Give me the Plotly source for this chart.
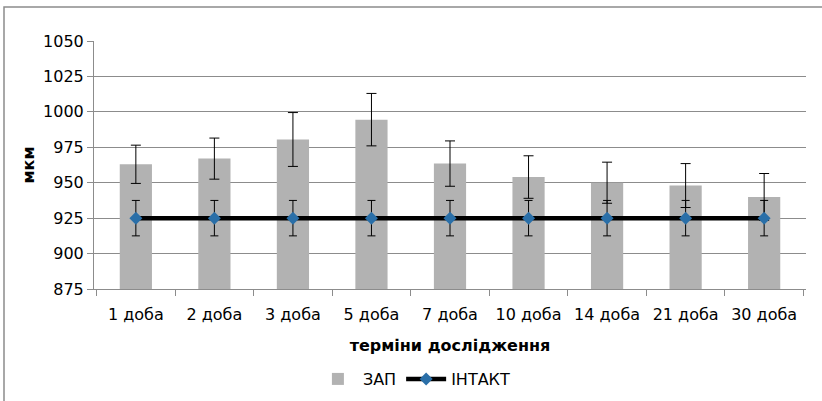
import plotly.graph_objects as go

categories = ["1 доба", "2 доба", "3 доба", "5 доба", "7 доба", "10 доба", "14 доба", "21 доба", "30 доба"]
zap_values = [963, 967, 980.5, 994.5, 963.5, 954, 950, 948, 940]
zap_errors = [13.5, 14.5, 19, 18.5, 16, 15, 14.5, 15.5, 16.5]
intakt_values = [925, 925, 925, 925, 925, 925, 925, 925, 925]
intakt_errors = [12.5, 12.5, 12.5, 12.5, 12.5, 12.5, 12.5, 12.5, 12.5]
y_ticks = [875, 900, 925, 950, 975, 1000, 1025, 1050]

font_family = "'DejaVu Sans', sans-serif"

fig = go.Figure()
fig.add_trace(go.Bar(
    x=categories, y=zap_values, name="ЗАП",
    marker=dict(color="#b2b2b2", line=dict(width=0)),
    width=0.41,
    error_y=dict(type="data", array=zap_errors, visible=True,
                 color="#000000", thickness=1, width=5),
))
fig.add_trace(go.Scatter(
    x=categories, y=intakt_values, name="ІНТАКТ", mode="lines+markers",
    line=dict(color="#000000", width=4.5),
    marker=dict(symbol="diamond", size=10, color="#2a6fa8",
                line=dict(width=0)),
    error_y=dict(type="data", array=intakt_errors, visible=True,
                 color="#000000", thickness=1, width=4),
))

fig.update_layout(
    width=822, height=401,
    margin=dict(l=94, r=16, t=41, b=112, autoexpand=False),
    paper_bgcolor="white", plot_bgcolor="white",
    font=dict(family=font_family, size=16, color="#000000"),
    showlegend=True,
    legend=dict(orientation="h", x=0.45, xanchor="center", y=-0.363, yanchor="middle",
                font=dict(size=16), itemwidth=40, traceorder="normal"),
    hovermode=False,
    shapes=[dict(type="rect", xref="paper", yref="paper",
                 x0=-90/712, x1=1.1, y0=-0.6, y1=282/248,
                 line=dict(color="#8c8c8c", width=1.5), fillcolor="rgba(0,0,0,0)",
                 layer="below")],
)
fig.update_xaxes(
    type="category", automargin=False,
    showline=True, linecolor="#8c8c8c", linewidth=1,
    ticks="outside", tickson="boundaries", ticklen=6, tickcolor="#8c8c8c",
    ticklabelstandoff=11,
    showgrid=False,
    tickfont=dict(size=16),
    title=dict(text="<b>терміни дослідження</b>", font=dict(size=16), standoff=16),
)
fig.update_yaxes(
    range=[875, 1050], tickvals=y_ticks, automargin=False,
    showline=True, linecolor="#8c8c8c", linewidth=1,
    ticks="outside", ticklen=6, tickcolor="#8c8c8c",
    showgrid=True, gridcolor="#8c8c8c", gridwidth=1,
    zeroline=False,
    tickfont=dict(size=16),
    title=dict(text="<b>мкм</b>", font=dict(size=16), standoff=4),
)

fig.write_html("out.html", config={"displayModeBar": False},
               post_script="document.body.style.margin='0';document.body.style.padding='0';")
